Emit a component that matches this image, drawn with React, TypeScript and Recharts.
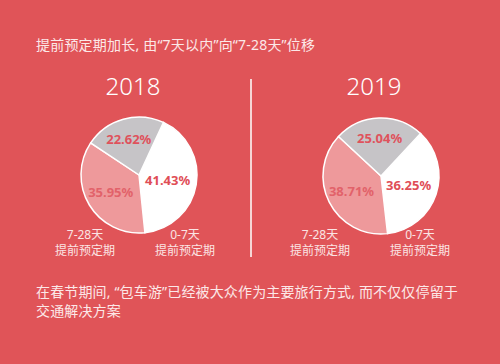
import React from "react";
import {Cell, Pie, PieChart} from "recharts";

const categories = ["0-7天", "7-28天", "28天以上"];
const values2018 = [41.43, 35.95, 22.62];
const values2019 = [36.25, 38.71, 25.04];
const years = ["2018", "2019"];
const title = "提前预定期加长, 由“7天以内”向“7-28天”位移";
const footLines = ["在春节期间, “包车游”已经被大众作为主要旅行方式, 而不仅仅停留于", "交通解决方案"];
const captionSuffix = "提前预定期";

const BG = "#E05458";
const COLORS = ["#FFFFFF", "#EE999B", "#C6C4C7"];
const LABEL_COLORS = ["#DF4E57", "#E2626A", "#DF525C"];
const LABEL_R = [0.5, 0.57, 0.65];
const FONT = "'Noto Sans', 'Noto Sans CJK SC', sans-serif";
const RADIAN = Math.PI / 180;

const toRows = (vals: number[]) => categories.map((name, i) => ({name, value: vals[i]}));

const renderLabel = (p: any) => {
    const r = p.outerRadius * LABEL_R[p.index];
    const x = p.cx + r * Math.cos(-p.midAngle * RADIAN);
    const y = p.cy + r * Math.sin(-p.midAngle * RADIAN);
    return (
        <text x={x} y={y} textAnchor="middle" dominantBaseline="central"
              fill={LABEL_COLORS[p.index]} fontSize={13} fontWeight={700} fontFamily={FONT}>
            {p.value.toFixed(2)}%
        </text>
    );
};

const abs = (left: number, top: number, extra: React.CSSProperties = {}): React.CSSProperties => ({
    position: "absolute", left, top, fontFamily: FONT, whiteSpace: "nowrap", ...extra,
});

function Caption({x, label}: { x: number; label: string }) {
    return (
        <div style={abs(x - 40, 227, {width: 80, textAlign: "center", fontSize: 12, lineHeight: "16px", color: "#FBE4E4"})}>
            <div>{label}</div>
            <div>{captionSuffix}</div>
        </div>
    );
}

export default function App() {
    const pies = [
        {cx: 134, cy: 170, start: 65, data: toRows(values2018)},
        {cx: 376, cy: 171, start: 47, data: toRows(values2019)},
    ];
    return (
        <div style={{position: "fixed", left: 0, top: 0, width: 500, height: 364, background: BG, overflow: "hidden"}}>
            <div style={abs(36, 35, {fontSize: 14, lineHeight: "20px", color: "#FCE8E8", letterSpacing: 0.2})}>{title}</div>
            <div style={abs(83, 70, {width: 100, textAlign: "center", fontSize: 24, lineHeight: "32px", color: "#fff", fontWeight: 300})}>{years[0]}</div>
            <div style={abs(324, 70, {width: 100, textAlign: "center", fontSize: 24, lineHeight: "32px", color: "#fff", fontWeight: 300})}>{years[1]}</div>
            <div style={{position: "absolute", left: 250, top: 79, width: 1.5, height: 178, background: "#F6D6D6"}}/>
            <div style={{position: "absolute", left: 0, top: 0}}>
                <PieChart width={500} height={364}>
                    {pies.map((p, k) => (
                        <Pie key={k} data={p.data} dataKey="value" nameKey="name" cx={p.cx} cy={p.cy}
                             outerRadius={58} startAngle={p.start} endAngle={p.start - 360}
                             stroke="#fff" strokeWidth={1.5} label={renderLabel} labelLine={false}
                             isAnimationActive={false}>
                            {p.data.map((d, i) => <Cell key={d.name} fill={COLORS[i]}/>)}
                        </Pie>
                    ))}
                </PieChart>
            </div>
            <Caption x={85} label={categories[1]}/>
            <Caption x={185} label={categories[0]}/>
            <Caption x={320} label={categories[1]}/>
            <Caption x={420} label={categories[0]}/>
            <div style={abs(36, 282, {fontSize: 14, lineHeight: "19px", color: "#FCE8E8", letterSpacing: 0.15})}>
                {footLines.map((l) => <div key={l}>{l}</div>)}
            </div>
        </div>
    );
}
